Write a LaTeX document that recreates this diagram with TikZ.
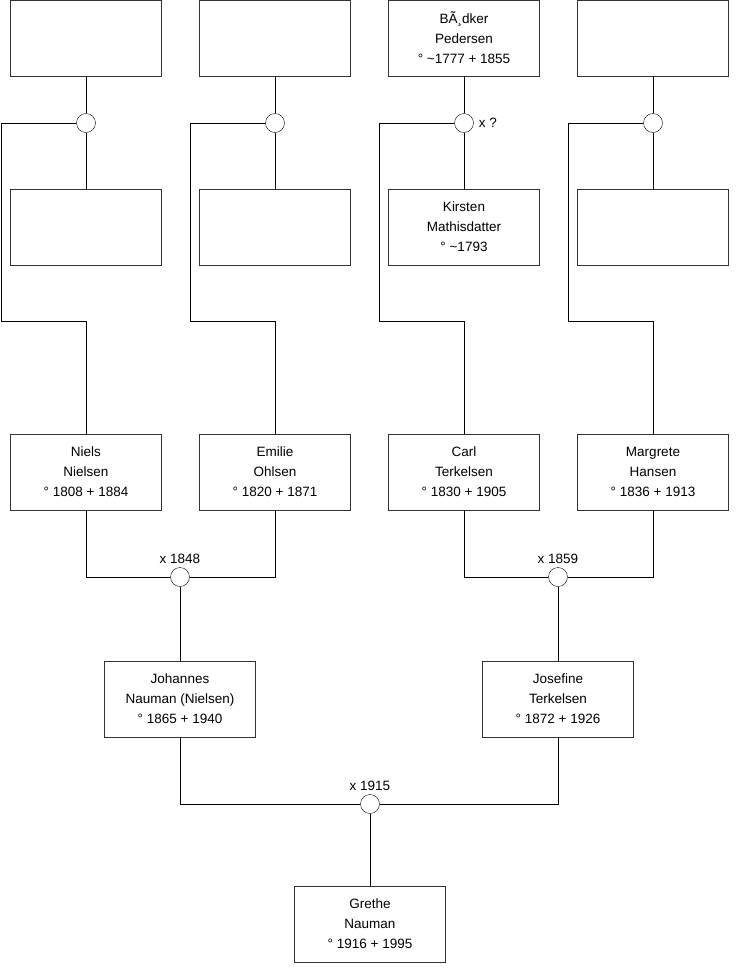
\documentclass[tikz,border=0pt]{standalone}
\usepackage{fontspec}
\setmainfont{Liberation Sans}
\usepackage{tikz}
\usetikzlibrary{positioning}

\begin{document}
\begin{tikzpicture}[x=1pt,y=-1pt,
  person/.style={draw=black!80,fill=white,minimum width=151pt,minimum height=76pt,
    inner sep=0pt,align=center,font=\fontsize{13.5}{20}\selectfont},
  union/.style={circle,draw,fill=white,minimum size=19pt,inner sep=0pt},
  link/.style={line width=1pt},
  lab/.style={font=\fontsize{13.5}{16}\selectfont,inner sep=1pt}]
\useasboundingbox (0,0) rectangle (740,975);
% great-grandparents
\node[person] (a1) at (86,38) {};
\node[person] (a2) at (275,38) {};
\node[person] (a3) at (464,38) {BÃ¸dker\\Pedersen\\° \textasciitilde1777 + 1855};
\node[person] (a4) at (653,38) {};
\node[person] (b1) at (86,227) {};
\node[person] (b2) at (275,227) {};
\node[person] (b3) at (464,227) {Kirsten\\Mathisdatter\\° \textasciitilde1793};
\node[person] (b4) at (653,227) {};
\node[union] (u1) at (86,123) {};
\node[union] (u2) at (275,123) {};
\node[union] (u3) at (464,123) {};
\node[union] (u4) at (653,123) {};
\node[lab,right=4pt of u3] {x ?};
% grandparents
\node[person] (n) at (86,472) {Niels\\Nielsen\\° 1808 + 1884};
\node[person] (e) at (275,472) {Emilie\\Ohlsen\\° 1820 + 1871};
\node[person] (c) at (464,472) {Carl\\Terkelsen\\° 1830 + 1905};
\node[person] (m) at (653,472) {Margrete\\Hansen\\° 1836 + 1913};
\coordinate (k1) at (1,321);
\coordinate (k2) at (190,321);
\coordinate (k3) at (379,321);
\coordinate (k4) at (568,321);
\draw[link] (a1) -- (u1) -- (b1);
\draw[link] (a2) -- (u2) -- (b2);
\draw[link] (a3) -- (u3) -- (b3);
\draw[link] (a4) -- (u4) -- (b4);
\draw[link] (u1) -| (k1) -| (n);
\draw[link] (u2) -| (k2) -| (e);
\draw[link] (u3) -| (k3) -| (c);
\draw[link] (u4) -| (k4) -| (m);
% parents
\node[union] (u5) at (180,577) {};
\node[union] (u6) at (558,577) {};
\node[lab,above=2pt of u5] {x 1848};
\node[lab,above=2pt of u6] {x 1859};
\node[person] (jo) at (180,699) {Johannes\\Nauman (Nielsen)\\° 1865 + 1940};
\node[person] (js) at (558,699) {Josefine\\Terkelsen\\° 1872 + 1926};
\draw[link] (n) |- (u5);
\draw[link] (e) |- (u5);
\draw[link] (c) |- (u6);
\draw[link] (m) |- (u6);
\draw[link] (u5) -- (jo);
\draw[link] (u6) -- (js);
% child
\node[union] (u7) at (370,804) {};
\node[lab,above=2pt of u7] {x 1915};
\node[person] (g) at (370,924) {Grethe\\Nauman\\° 1916 + 1995};
\draw[link] (jo) |- (u7);
\draw[link] (js) |- (u7);
\draw[link] (u7) -- (g);
\end{tikzpicture}
\end{document}
